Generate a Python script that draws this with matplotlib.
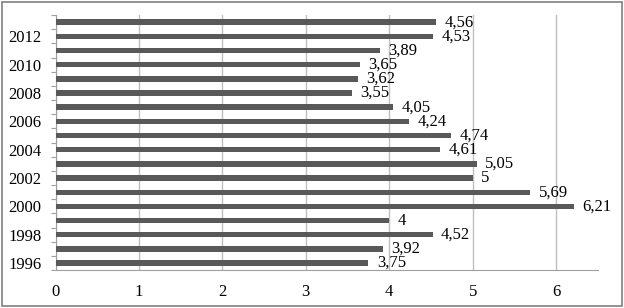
import numpy as np
import matplotlib.pyplot as plt
from matplotlib.patches import Rectangle

years = list(range(1996, 2014))
values = [3.75, 3.92, 4.52, 4.00, 6.21, 5.69, 5.00, 5.05, 4.61, 4.74,
          4.24, 4.05, 3.55, 3.62, 3.65, 3.89, 4.53, 4.56]
value_labels = ["3,75", "3,92", "4,52", "4", "6,21", "5,69", "5", "5,05", "4,61", "4,74",
                "4,24", "4,05", "3,55", "3,62", "3,65", "3,89", "4,53", "4,56"]
label_years = [1996, 1998, 2000, 2002, 2004, 2006, 2008, 2010, 2012]

plt.rcParams['font.family'] = ['Liberation Serif', 'DejaVu Serif']

fig = plt.figure(figsize=(6.24, 3.08), dpi=100)
ax = fig.add_axes([0.089, 0.123, 0.869, 0.828])

pos = np.arange(len(years))
ax.barh(pos, values, height=0.38, color='#595959', zorder=3)
for p, v, lab in zip(pos, values, value_labels):
    ax.text(v + 0.1, p, lab, va='center', ha='left', fontsize=12, color='black')

ax.set_xlim(0, 6.5)
ax.set_ylim(-0.5, len(years) - 0.5)
ax.set_xticks(range(7))
ax.xaxis.grid(True, color='#bfbfbf', linewidth=1, zorder=0)
ax.tick_params(axis='x', length=0, labelsize=12, pad=10)

ax.set_yticks(np.arange(-0.5, len(years), 1.0))
ax.set_yticklabels([])
ax.tick_params(axis='y', which='major', length=3.5, color='#a0a0a0', direction='out')
ax.set_yticks([years.index(y) for y in label_years], minor=True)
ax.set_yticklabels([str(y) for y in label_years], minor=True)
ax.tick_params(axis='y', which='minor', length=0, labelsize=12, pad=10)

for s in ['top', 'right']:
    ax.spines[s].set_visible(False)
ax.spines['left'].set_color('#a0a0a0')
ax.spines['bottom'].set_color('#a0a0a0')

fig.patches.append(Rectangle((0.004, 0.006), 0.992, 0.988, transform=fig.transFigure,
                             fill=False, edgecolor='#808080', linewidth=1.2))

fig.savefig('out.png', dpi=100)
